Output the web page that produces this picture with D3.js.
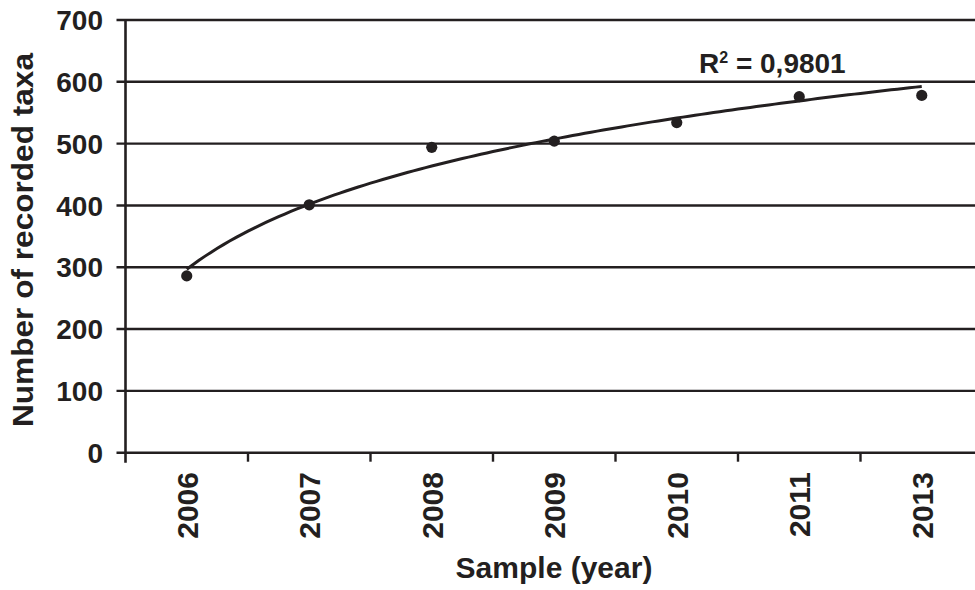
<!DOCTYPE html>
<html>
<head>
<meta charset="utf-8">
<script src="https://cdn.jsdelivr.net/npm/d3@7"></script>
<style>
  body { margin: 0; background: #fff; }
  svg text { font-family: "Liberation Sans", Arial, sans-serif; font-weight: bold; fill: #231f20; }
</style>
</head>
<body>
<div id="chart"></div>
<script>
// Data
var years = ['2006', '2007', '2008', '2009', '2010', '2011', '2013'];
var taxa = [286, 401, 494, 504, 534, 576, 578];
var yTicks = [0, 100, 200, 300, 400, 500, 600, 700];
var rSquaredLabel = '0,9801';

var config = {
  width: 975,
  height: 590,
  left: 125.5,
  right: 983,
  top: 20,
  bottom: 452.7,
  ink: '#231f20'
};

var svg = d3.select('#chart')
  .append('svg')
  .attr('width', config.width)
  .attr('height', config.height);

var x = d3.scaleBand().domain(years).range([config.left, config.right]);
var y = d3.scaleLinear().domain([0, 700]).range([config.bottom, config.top]);

// Grid lines (with the small outer tick on the left)
svg.selectAll('.grid')
  .data(yTicks)
  .enter()
  .append('line')
  .attr('class', 'grid')
  .attr('x1', config.left - 9)
  .attr('x2', config.width)
  .attr('y1', (d) => y(d))
  .attr('y2', (d) => y(d))
  .style('stroke', config.ink)
  .style('stroke-width', 2.4);

// Y axis line
svg.append('line')
  .attr('x1', config.left)
  .attr('x2', config.left)
  .attr('y1', config.top)
  .attr('y2', config.bottom + 10)
  .style('stroke', config.ink)
  .style('stroke-width', 2.6);

// Y tick labels
svg.selectAll('.y-label')
  .data(yTicks)
  .enter()
  .append('text')
  .attr('class', 'y-label')
  .attr('x', 103)
  .attr('y', (d) => y(d))
  .attr('dy', '0.36em')
  .attr('text-anchor', 'end')
  .style('font-size', '28px')
  .text((d) => d);

// X ticks at category boundaries
svg.selectAll('.x-tick')
  .data(years.slice(1))
  .enter()
  .append('line')
  .attr('class', 'x-tick')
  .attr('x1', (d) => x(d))
  .attr('x2', (d) => x(d))
  .attr('y1', config.bottom)
  .attr('y2', config.bottom + 9)
  .style('stroke', config.ink)
  .style('stroke-width', 2.4);

// X tick labels (rotated)
svg.selectAll('.x-label')
  .data(years)
  .enter()
  .append('text')
  .attr('class', 'x-label')
  .attr('transform', (d) => 'translate(' + (x(d) + x.bandwidth() / 2) + ',' + 472 + ') rotate(-90)')
  .attr('dy', '0.36em')
  .attr('text-anchor', 'end')
  .style('font-size', '30px')
  .text((d) => d);

// Axis titles
svg.append('text')
  .attr('x', 554)
  .attr('y', 578)
  .attr('text-anchor', 'middle')
  .style('font-size', '30px')
  .text('Sample (year)');

svg.append('text')
  .attr('transform', 'translate(33,240) rotate(-90)')
  .attr('text-anchor', 'middle')
  .attr('textLength', 374)
  .attr('lengthAdjust', 'spacingAndGlyphs')
  .style('font-size', '30px')
  .text('Number of recorded taxa');

// Logarithmic trend line, least squares on category index 1..n
var lx = taxa.map((d, i) => Math.log(i + 1));
var mx = d3.mean(lx), my = d3.mean(taxa);
var sxy = d3.sum(lx, (d, i) => (d - mx) * (taxa[i] - my));
var sxx = d3.sum(lx, (d) => (d - mx) * (d - mx));
var a = sxy / sxx, b = my - a * mx;

var trendPts = d3.range(0, 6.001, 0.05).map((t) => {
  var px = x(years[0]) + x.bandwidth() / 2 + t * x.step();
  return [px, y(a * Math.log(t + 1) + b)];
});

svg.append('path')
  .attr('d', d3.line().curve(d3.curveLinear)(trendPts))
  .style('fill', 'none')
  .style('stroke', config.ink)
  .style('stroke-width', 3);

// Data points
svg.selectAll('.dot')
  .data(taxa)
  .enter()
  .append('circle')
  .attr('class', 'dot')
  .attr('cx', (d, i) => x(years[i]) + x.bandwidth() / 2)
  .attr('cy', (d) => y(d))
  .attr('r', 5.6)
  .style('fill', config.ink);

// R squared label
var r2 = svg.append('text')
  .attr('x', 699)
  .attr('y', 73)
  .style('font-size', '28px');
r2.append('tspan').text('R');
r2.append('tspan').attr('dy', -10).style('font-size', '16px').text('2');
r2.append('tspan').attr('dy', 10).text(' = ' + rSquaredLabel);
</script>
</body>
</html>
